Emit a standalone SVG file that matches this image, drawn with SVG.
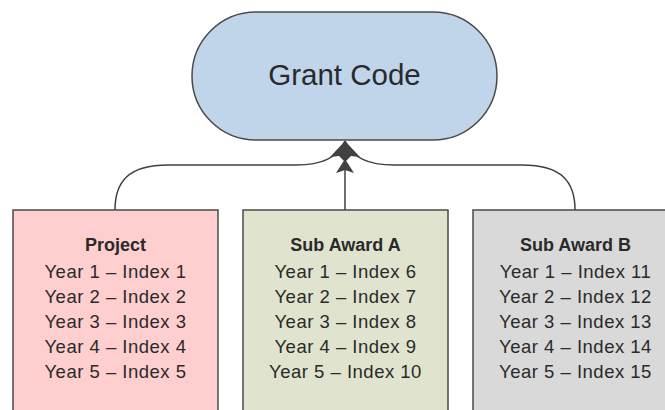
<svg xmlns="http://www.w3.org/2000/svg" width="665" height="410" viewBox="0 0 665 410">
  <style>
    .box { stroke: #4a4a4a; stroke-width: 1.5; }
    .conn { fill: none; stroke: #404040; stroke-width: 1.5; }
    .head { fill: #404040; }
    text { font-family: "Liberation Sans", Arial, sans-serif; fill: #2a2a2a; text-anchor: middle; }
    .title { font-size: 29.5px; }
    .hdr { font-size: 18px; font-weight: bold; }
    .row { font-size: 18.5px; letter-spacing: 0.5px; }
  </style>
  <rect width="665" height="410" fill="#ffffff"/>

  <!-- connectors -->
  <g id="connectors">
    <path class="conn" d="M115,210 C115,182 128,165 168,165 L296,165 C322,165 337,158 345,141"/>
    <path class="conn" d="M575,210 C575,182 562,165 522,165 L394,165 C368,165 353,158 345,141"/>
    <path class="conn" d="M345,210 L345,141"/>
    <!-- arrowheads where the three connectors meet the top node -->
    <polygon class="head" points="345,141 330,157 339,156 345,162 351,156 360,157"/>
    <polygon class="head" points="345,159 336,173 345,170 354,173"/>
  </g>

  <g id="grant-code">
    <rect x="192" y="12" width="305" height="128" rx="64" ry="64" fill="#c0d5ea" class="box"/>
    <text class="title" x="344.5" y="85">Grant Code</text>
  </g>

  <g id="project">
    <rect x="13" y="210" width="205" height="220" fill="#ffcfcf" class="box"/>
    <text class="hdr" x="115.5" y="251">Project</text>
    <text class="row" x="115.5" y="278">Year 1 – Index 1</text>
    <text class="row" x="115.5" y="303">Year 2 – Index 2</text>
    <text class="row" x="115.5" y="328">Year 3 – Index 3</text>
    <text class="row" x="115.5" y="353">Year 4 – Index 4</text>
    <text class="row" x="115.5" y="378">Year 5 – Index 5</text>
  </g>

  <g id="sub-award-a">
    <rect x="243" y="210" width="205" height="220" fill="#e0e4cf" class="box"/>
    <text class="hdr" x="345.5" y="251">Sub Award A</text>
    <text class="row" x="345.5" y="278">Year 1 – Index 6</text>
    <text class="row" x="345.5" y="303">Year 2 – Index 7</text>
    <text class="row" x="345.5" y="328">Year 3 – Index 8</text>
    <text class="row" x="345.5" y="353">Year 4 – Index 9</text>
    <text class="row" x="345.5" y="378">Year 5 – Index 10</text>
  </g>

  <g id="sub-award-b">
    <rect x="473" y="210" width="205" height="220" fill="#d9d9d9" class="box"/>
    <text class="hdr" x="575.5" y="251">Sub Award B</text>
    <text class="row" x="575.5" y="278">Year 1 – Index 11</text>
    <text class="row" x="575.5" y="303">Year 2 – Index 12</text>
    <text class="row" x="575.5" y="328">Year 3 – Index 13</text>
    <text class="row" x="575.5" y="353">Year 4 – Index 14</text>
    <text class="row" x="575.5" y="378">Year 5 – Index 15</text>
  </g>
</svg>
